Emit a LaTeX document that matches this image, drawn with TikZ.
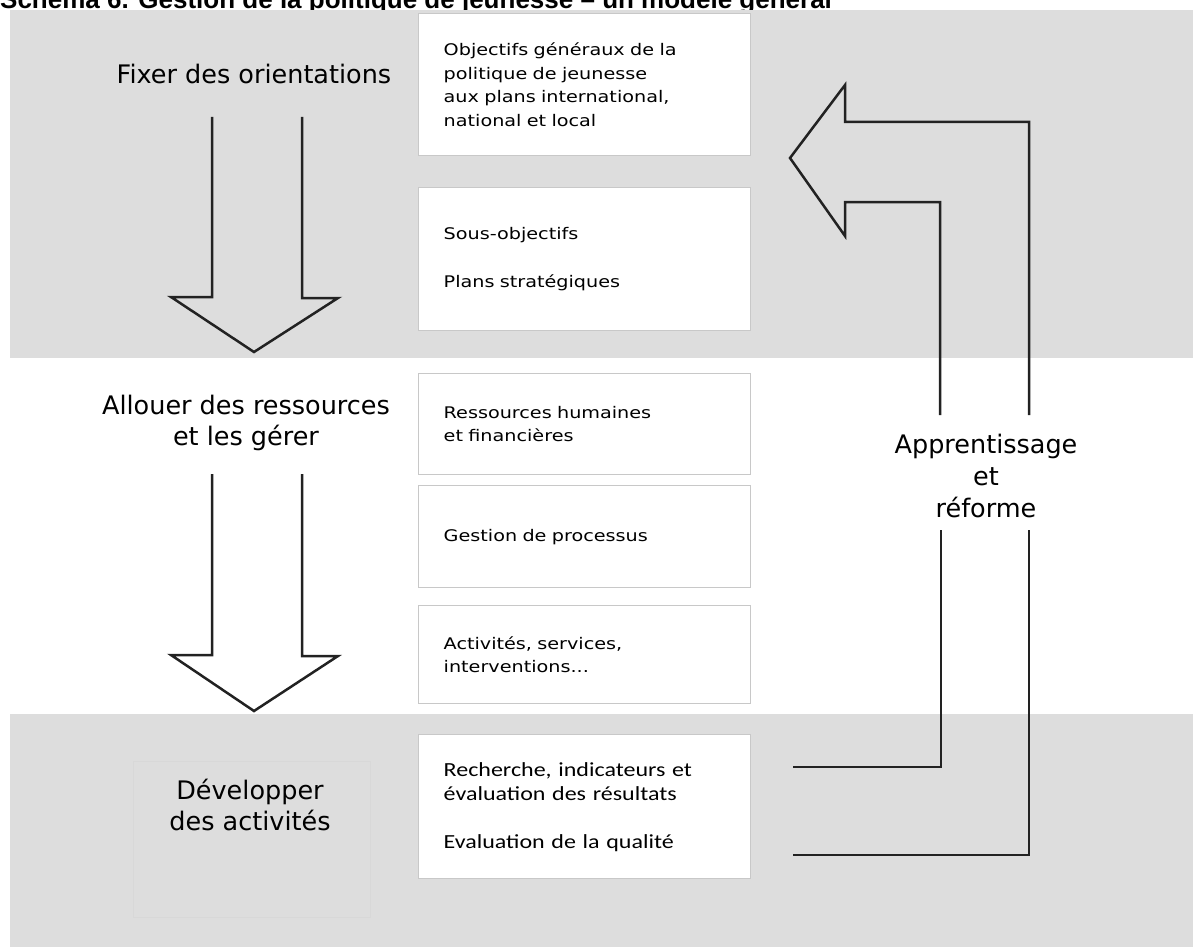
\documentclass[tikz,border=0pt]{standalone}
\usepackage{fontspec}
\setmainfont{DejaVu Sans}
\newfontfamily\boxfont[FakeStretch=1.2]{DejaVu Sans}
\newfontfamily\calfont[FakeStretch=1.2]{Carlito}
\newfontfamily\titlefont{Liberation Sans}
\definecolor{bandgray}{HTML}{DDDDDD}
\definecolor{boxborder}{HTML}{C8C8C8}
\definecolor{faintborder}{HTML}{D8D8D8}
\definecolor{linecol}{HTML}{222222}
\begin{document}
\begin{tikzpicture}[x=1pt,y=-1pt,
  textbox/.style={draw=boxborder,line width=1.4pt,fill=white,anchor=north west,
    inner xsep=25pt,inner ysep=0pt,text width=282pt,minimum height=#1,align=left,
    font=\boxfont\fontsize{16}{23.5}\selectfont},
  biglabel/.style={font=\fontsize{25.5}{31}\selectfont,align=center,inner sep=0pt,anchor=base},
  outline/.style={draw=linecol,line width=2.5pt,line join=miter},
]
\useasboundingbox (0,0) rectangle (1193,947);
\clip (0,0) rectangle (1193,947);
\node[anchor=base west,inner sep=0pt,font=\titlefont\bfseries\fontsize{26}{30}\selectfont] (title) at (0,9) {Schéma 6. Gestion de la politique de jeunesse – un modèle général};
% bands
\fill[bandgray] (10,10) rectangle (1193,358);
\fill[bandgray] (10,714) rectangle (1193,947);
% boxes
\node[textbox=142pt] (b1) at (418,13) {Objectifs généraux de la\\politique de jeunesse\\aux plans international,\\national et local};
\node[textbox=143pt] (b2) at (418,187) {Sous-objectifs\\[24.5pt]Plans stratégiques};
\node[textbox=101pt] (b3) at (418,373) {Ressources humaines\\et financières};
\node[textbox=102pt] (b4) at (418,485) {Gestion de processus};
\node[textbox=98pt] (b5) at (418,605) {Activités, services,\\interventions...};
\node[textbox=144pt,font=\calfont\fontsize{20}{24}\selectfont] (b6) at (418,734) {Recherche, indicateurs et\\évaluation des résultats\\[24pt]Evaluation de la qualité};
% labels
\node[draw=faintborder,line width=1pt,minimum width=237pt,minimum height=156pt,anchor=north west,inner sep=0pt] (devframe) at (133,761) {};
\node[biglabel] (fix) at (254,84) {Fixer des orientations};
\node[biglabel] (alloc) at (246,445) {Allouer des ressources\\et les gérer};
\node[biglabel] (dev) at (250,830) {Développer\\des activités};
\node[biglabel,font=\fontsize{25.5}{32}\selectfont] (app) at (986,517) {Apprentissage\\et\\réforme};
% down arrows
\coordinate (a1l) at (212,117); \coordinate (a1r) at (302,117); \coordinate (a1tip) at (254,352);
\draw[outline] (a1l) -- (212,297) -- (171,297) -- (a1tip) -- (338,298) -- (302,298) -- (a1r);
\coordinate (a2l) at (212,474); \coordinate (a2r) at (302,474); \coordinate (a2tip) at (254,711);
\draw[outline] (a2l) -- (212,655) -- (171,655) -- (a2tip) -- (338,656) -- (302,656) -- (a2r);
% feedback arrow
\coordinate (inA) at (940,415); \coordinate (inB) at (1029,415);
\coordinate (tip) at (790,158);
\draw[outline] (inA) -- (940,202) -- (845,202) -- (845,236) -- (tip) -- (845,85) -- (845,122) -- (1029,122) -- (inB);
\coordinate (loA) at (941,530); \coordinate (loB) at (1029,530);
\coordinate (fb1) at (793,767); \coordinate (fb2) at (793,855);
\draw[outline] (loA) -- (941,767) -- (fb1);
\draw[outline] (loB) -- (1029,855) -- (fb2);
\end{tikzpicture}
\end{document}
